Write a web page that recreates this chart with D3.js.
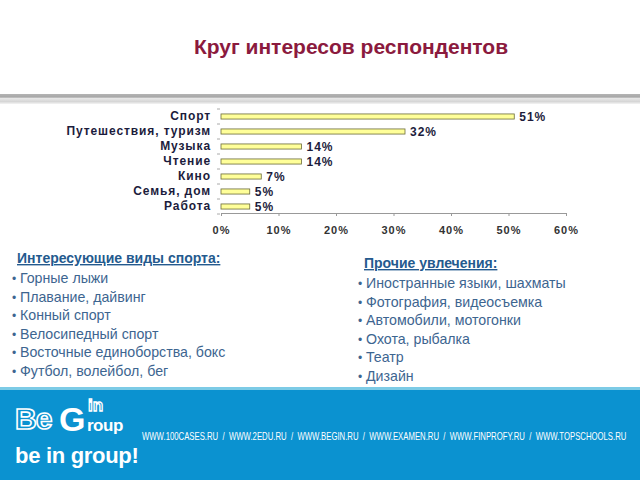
<!DOCTYPE html>
<html><head><meta charset="utf-8">
<script src="https://cdn.jsdelivr.net/npm/d3@7"></script>
<style>html,body{margin:0;padding:0;background:#fff;}svg{display:block;}</style>
</head><body>
<script>
const title = "Круг интересов респондентов";
const categories = ["Спорт","Путешествия, туризм","Музыка","Чтение","Кино","Семья, дом","Работа"];
const values = [51, 32, 14, 14, 7, 5, 5];
const tickValues = [0, 10, 20, 30, 40, 50, 60];
const sportsHeading = "Интересующие виды спорта:";
const sportsList = ["Горные лыжи","Плавание, дайвинг","Конный спорт","Велосипедный спорт","Восточные единоборства, бокс","Футбол, волейбол, бег"];
const otherHeading = "Прочие увлечения:";
const otherList = ["Иностранные языки, шахматы","Фотография, видеосъемка","Автомобили, мотогонки","Охота, рыбалка","Театр","Дизайн"];
const footerUrls = ["WWW.100CASES.RU","WWW.2EDU.RU","WWW.BEGIN.RU","WWW.EXAMEN.RU","WWW.FINPROFY.RU","WWW.TOPSCHOOLS.RU"];

const W = 640, H = 480;
const svg = d3.select("body").append("svg").attr("width", W).attr("height", H)
  .style("font-family", "Arial, 'Liberation Sans', sans-serif");

// title
svg.append("text").attr("x", 351).attr("y", 54).attr("text-anchor", "middle")
  .attr("font-size", 21).attr("font-weight", "bold").attr("fill", "#8b1a3e").text(title);

// gray band under title
const defs = svg.append("defs");
const g1 = defs.append("linearGradient").attr("id", "band").attr("x1", 0).attr("y1", 0).attr("x2", 0).attr("y2", 1);
g1.append("stop").attr("offset", "0%").attr("stop-color", "#b4b4b4");
g1.append("stop").attr("offset", "30%").attr("stop-color", "#a8a8a8");
g1.append("stop").attr("offset", "45%").attr("stop-color", "#e6e6e6");
g1.append("stop").attr("offset", "75%").attr("stop-color", "#d6d6d6");
g1.append("stop").attr("offset", "100%").attr("stop-color", "#f4f4f4");
svg.append("rect").attr("x", 0).attr("y", 94).attr("width", W).attr("height", 10).attr("fill", "url(#band)");

// chart
const x = d3.scaleLinear().domain([0, 60]).range([221, 566]);
const y = d3.scaleBand().domain(categories).range([109, 214]).paddingInner(0.66).paddingOuter(0.33);

// x axis
const xAxis = svg.append("g").attr("transform", "translate(0,213)")
  .call(d3.axisBottom(x).tickValues(tickValues).tickSize(3).tickFormat(d => d + "%"));
xAxis.select(".domain").attr("stroke", "#999");
xAxis.selectAll(".tick line").attr("stroke", "#999");
xAxis.selectAll("text").attr("font-size", 11).attr("font-weight", "bold").attr("fill", "#333")
  .attr("letter-spacing", 1).attr("dy", "1.35em").attr("font-family", "Arial, 'Liberation Sans', sans-serif");

// y axis (ticks only)
const yAxis = svg.append("g").attr("transform", "translate(221,0)")
  .call(d3.axisLeft(y).tickSize(0).tickPadding(10));
yAxis.select(".domain").remove();
yAxis.selectAll("text").attr("font-size", 12).attr("font-weight", "bold").attr("fill", "#1c1c3c")
  .attr("letter-spacing", 0.9).attr("font-family", "Arial, 'Liberation Sans', sans-serif");
const step = y.step();
svg.append("g").selectAll("line").data(d3.range(categories.length + 1)).join("line")
  .attr("x1", 217).attr("x2", 220)
  .attr("y1", i => 109 + i * step).attr("y2", i => 109 + i * step)
  .attr("stroke", "#aaa");

// bars
svg.append("g").selectAll("rect").data(categories).join("rect")
  .attr("x", x(0)).attr("y", d => y(d))
  .attr("width", (d, i) => x(values[i]) - x(0)).attr("height", y.bandwidth())
  .attr("fill", "#ffff99").attr("stroke", "#6b6b3a").attr("stroke-width", 0.8);

// value labels
svg.append("g").selectAll("text").data(categories).join("text")
  .attr("x", (d, i) => x(values[i]) + 5).attr("y", d => y(d) + y.bandwidth() / 2)
  .attr("dy", "0.38em").attr("font-size", 12).attr("font-weight", "bold")
  .attr("letter-spacing", 1).attr("fill", "#1c1c3c")
  .text((d, i) => values[i] + "%");

// lists
function drawList(hx, hy, heading, items, bx, tx, y0, dy) {
  svg.append("text").attr("x", hx).attr("y", hy).attr("font-size", 14)
    .attr("font-weight", "bold").attr("fill", "#245a8e").attr("text-decoration", "underline").text(heading);
  const g = svg.append("g");
  items.forEach((t, i) => {
    g.append("text").attr("x", bx).attr("y", y0 + i * dy).attr("font-size", 12).attr("fill", "#3d6590").text("•");
    g.append("text").attr("x", tx).attr("y", y0 + i * dy).attr("font-size", 14.2).attr("fill", "#3d6590").text(t);
  });
}
drawList(17, 263, sportsHeading, sportsList, 12, 20, 283, 18.5);
drawList(364, 268, otherHeading, otherList, 358, 366, 288, 18.5);

// footer
svg.append("rect").attr("x", 0).attr("y", 387).attr("width", W).attr("height", 3).attr("fill", "#7ccbe6");
svg.append("rect").attr("x", 0).attr("y", 390).attr("width", W).attr("height", 90).attr("fill", "#0b92d0");

const logo = svg.append("g").attr("font-family", "Arial, 'Liberation Sans', sans-serif").attr("font-weight", "bold");
logo.append("text").attr("x", 15).attr("y", 429).attr("font-size", 30).attr("fill", "#0b92d0")
  .attr("stroke", "#fff").attr("stroke-width", 1.6).attr("letter-spacing", -1).text("Be");
logo.append("text").attr("x", 59).attr("y", 431).attr("font-size", 34).attr("fill", "#fff").text("G");
logo.append("text").attr("x", 88).attr("y", 411).attr("font-size", 17).attr("fill", "#0b92d0")
  .attr("stroke", "#fff").attr("stroke-width", 1.3).text("in");
logo.append("text").attr("x", 87).attr("y", 431).attr("font-size", 17).attr("fill", "#fff").attr("letter-spacing", -0.5).text("roup");
logo.append("text").attr("x", 15).attr("y", 463).attr("font-size", 22).attr("fill", "#fff").attr("letter-spacing", -0.3).text("be in group!");

// footer urls: one line, horizontally condensed to fit 142..627
const urlG = svg.append("g");
const urlText = urlG.append("text").attr("x", 0).attr("y", 0).attr("font-size", 10).attr("fill", "#fff")
  .attr("font-family", "Arial, 'Liberation Sans', sans-serif")
  .text(footerUrls.join("  /  "));
urlText.style("white-space", "pre");
const natural = urlText.node().getComputedTextLength();
const sx = 485 / natural;
urlG.attr("transform", `translate(142,440) scale(${sx},1)`);
</script>
</body></html>
